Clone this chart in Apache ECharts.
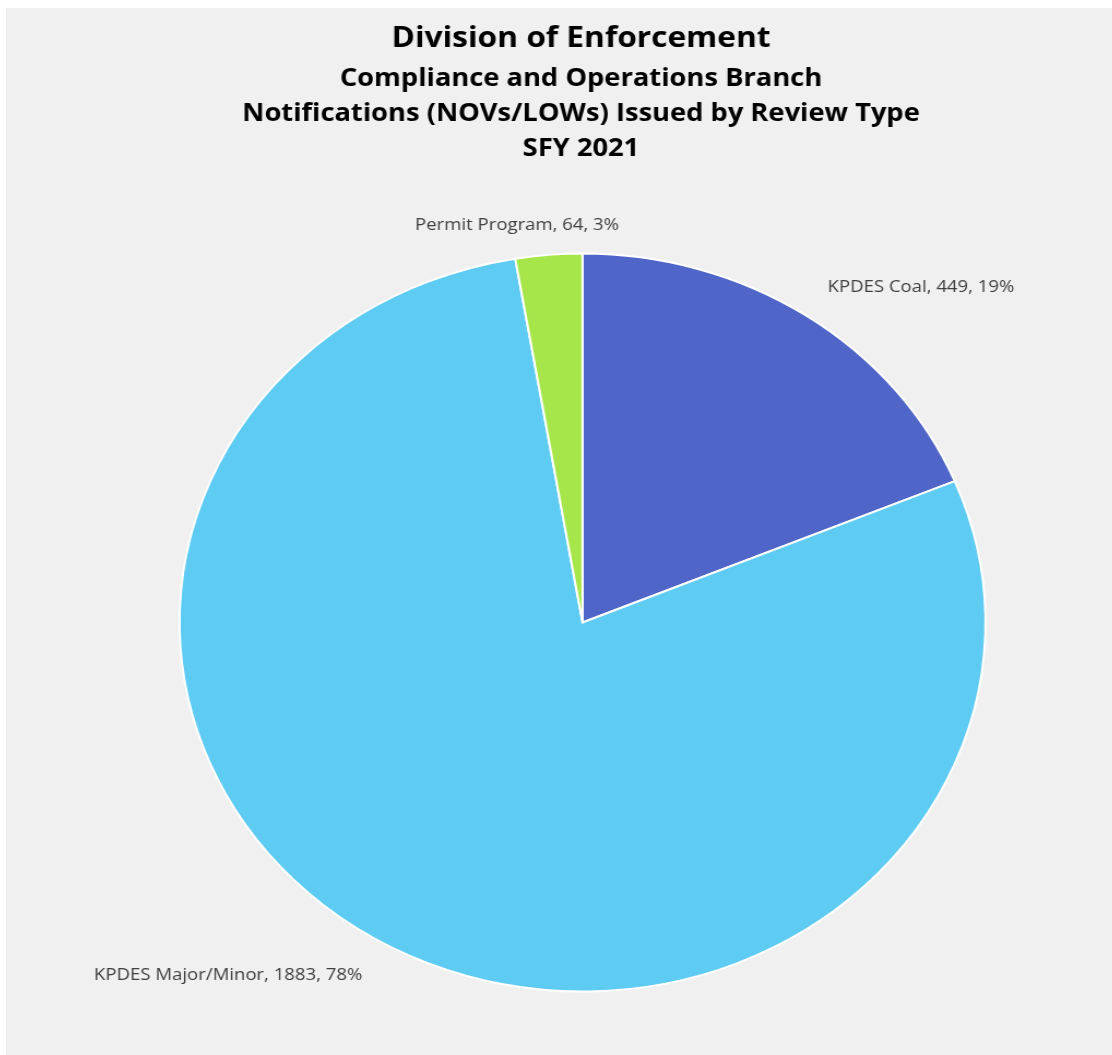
<!DOCTYPE html>
<html>
<head>
<meta charset="utf-8">
<script src="https://cdn.jsdelivr.net/npm/echarts@6/dist/echarts.min.js"></script>
<style>
  html, body { margin: 0; padding: 0; background: #ffffff; width: 1112px; height: 1055px; overflow: hidden; }
  #chart { position: absolute; left: 6px; top: 8px; width: 1012.7px; height: 1047px;
           transform: scaleX(1.0921); transform-origin: 0 0; }
</style>
</head>
<body>
<div id="chart"></div>
<script>
// ---- data ----
const titleLines = ['Division of Enforcement', 'Compliance and Operations Branch', 'Notifications (NOVs/LOWs) Issued by Review Type', 'SFY 2021'];
const categories = ['KPDES Coal', 'KPDES Major/Minor', 'Permit Program'];
const values = [449, 1883, 64];
const sliceColors = ['#4f66c8', '#5ecbf3', '#a6e64b'];

// label nudges from the slice edge midpoint (style only)
const labelNudge = [[105, -28], [-146, 30], [-29, -30]];

const chart = echarts.init(document.getElementById('chart'), null, { renderer: 'canvas' });

const option = {
  backgroundColor: '#f0f0f0',
  animation: false,
  title: [
    {
      text: titleLines[0],
      left: 526.5, top: 14, textAlign: 'center', padding: 0,
      textStyle: { fontFamily: 'Open Sans', fontWeight: 'bold', fontSize: 29, lineHeight: 34, color: '#000' }
    },
    {
      text: titleLines.slice(1).join('\n'),
      left: 526.5, top: 53, textAlign: 'center', padding: 0,
      textStyle: { fontFamily: 'Open Sans', fontWeight: 'bold', fontSize: 25, lineHeight: 35, color: '#000' }
    }
  ],
  series: [{
    type: 'pie',
    center: [527.9, 614.5],
    radius: 369,
    startAngle: 90,
    clockwise: true,
    percentPrecision: 0,
    avoidLabelOverlap: false,
    data: categories.map((c, i) => ({ name: c, value: values[i], itemStyle: { color: sliceColors[i] } })),
    itemStyle: { borderColor: '#ffffff', borderWidth: 2 },
    label: {
      show: true,
      position: 'outside',
      alignTo: 'none',
      distanceToLabelLine: 0,
      formatter: '{b}, {c}, {d}%',
      fontFamily: 'Open Sans',
      fontSize: 17,
      color: '#404040'
    },
    labelLine: { show: false, length: 0, length2: 0 },
    labelLayout: function (params) {
      const n = labelNudge[params.dataIndex];
      return { dx: n[0], dy: n[1], align: 'center', verticalAlign: 'middle' };
    },
    emphasis: { disabled: true }
  }]
};
chart.setOption(option);
</script>
</body>
</html>
